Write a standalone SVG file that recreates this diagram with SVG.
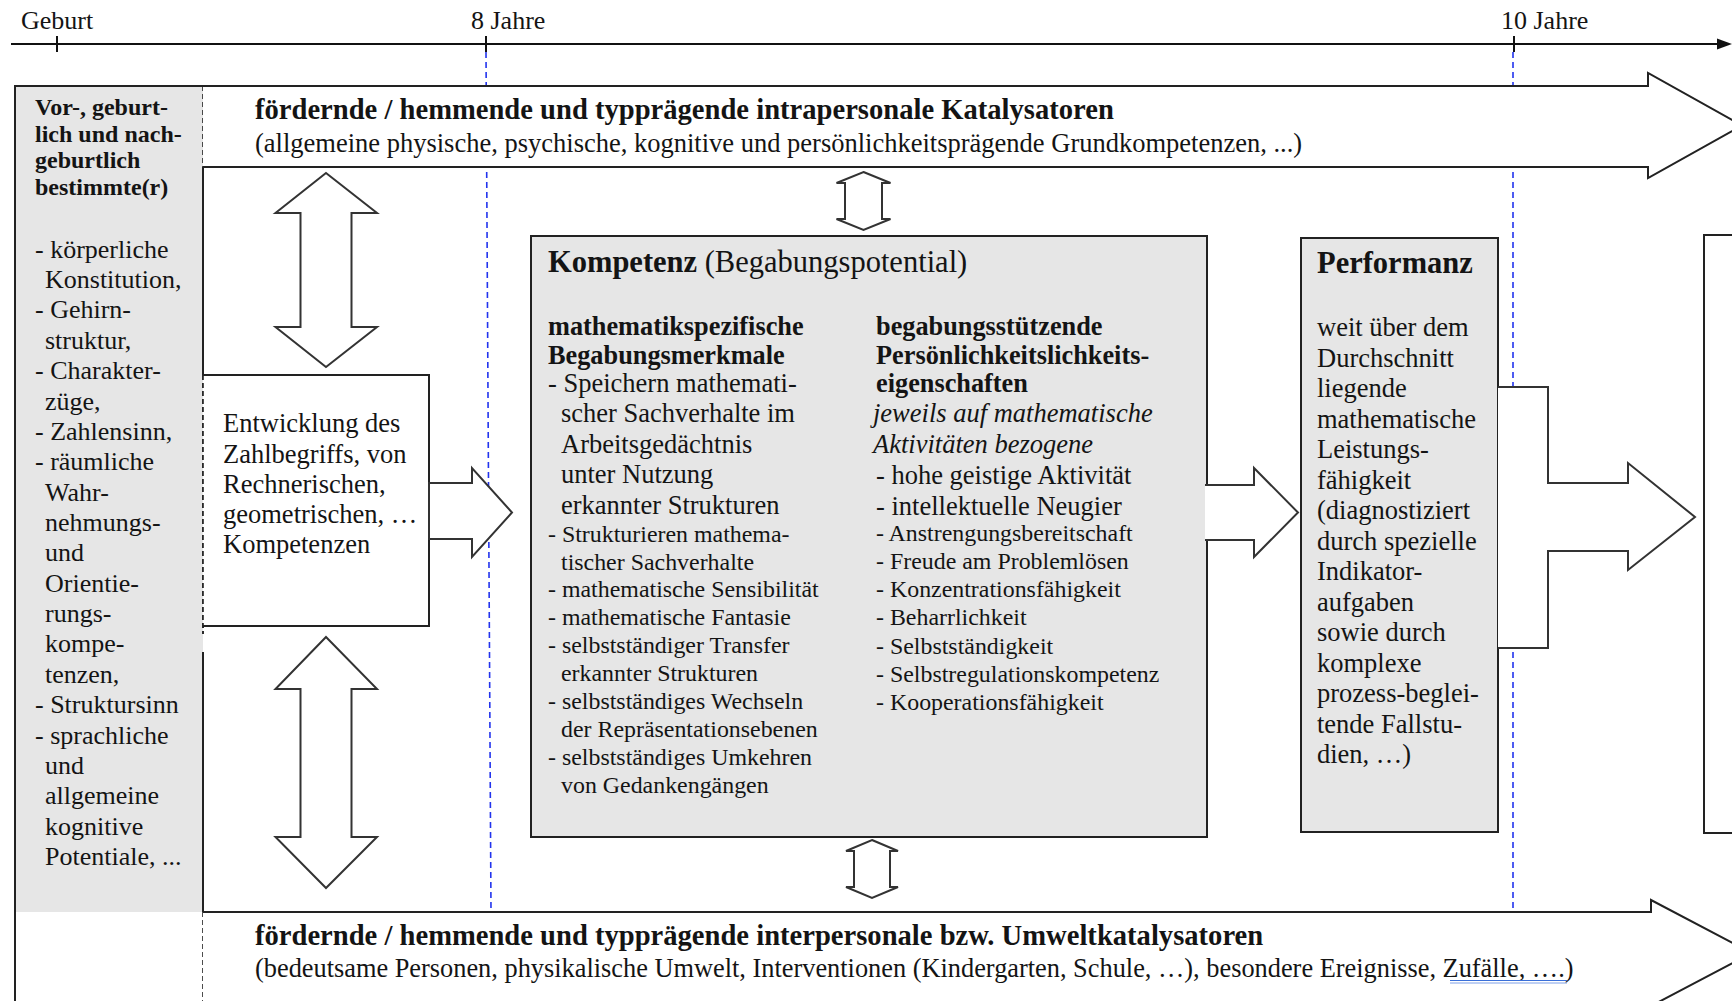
<svg xmlns="http://www.w3.org/2000/svg" width="1732" height="1001" viewBox="0 0 1732 1001">
<style>
text{font-family:"Liberation Serif","Times New Roman",serif;fill:#141414}
.s26{font-size:26px}
.s265{font-size:26.5px}
.b{font-weight:bold}
.hb{font-size:28.6px;font-weight:bold}
.lb{font-size:24px;font-weight:bold}
.kb{font-size:26.3px;font-weight:bold}
.c{font-size:23.9px}
.it{font-size:26.5px;font-style:italic}
.ti{font-size:30.5px}
.ln{stroke:#222;stroke-width:2;fill:none}
.dsh{stroke:#222;stroke-width:1.6;stroke-dasharray:5,3;fill:none}
.blue{stroke:#2233ee;stroke-width:1.6;stroke-dasharray:6,4;fill:none}
.box{fill:#e6e6e6;stroke:#222;stroke-width:2}
.arw{fill:#fff;stroke:#333;stroke-width:2;stroke-linejoin:miter}
.wf{fill:#fff;stroke:none}
</style>

<g id="timeline">
  <line x1="486" y1="52" x2="491" y2="912" class="blue"/>
  <line x1="1513" y1="52" x2="1513" y2="912" class="blue"/>
  <line x1="11" y1="44" x2="1722" y2="44" stroke="#111" stroke-width="2"/>
  <polygon points="1717,38.5 1732,44 1717,49.5" fill="#111"/>
  <line x1="57" y1="36" x2="57" y2="52" stroke="#111" stroke-width="2"/>
  <line x1="486" y1="36" x2="486" y2="52" stroke="#111" stroke-width="2"/>
  <line x1="1514" y1="36" x2="1514" y2="52" stroke="#111" stroke-width="2"/>
  <text x="21" y="29" class="s26">Geburt</text>
  <text x="471" y="29" class="s26">8 Jahre</text>
  <text x="1501" y="29" class="s26">10 Jahre</text>
</g>

<g id="anlagen">
  <rect x="15" y="86" width="188" height="826" fill="#e6e6e6"/>
  <path d="M15,1001 V86 H203" class="ln"/>
  <line x1="203" y1="86" x2="203" y2="167" class="dsh"/>
  <line x1="203" y1="167" x2="203" y2="375" class="ln"/>
  <line x1="203" y1="375" x2="203" y2="634" class="dsh"/>
  <line x1="203" y1="652" x2="203" y2="912" class="ln"/>
  <line x1="203" y1="912" x2="203" y2="1001" class="dsh"/>
  <text class="lb">
    <tspan x="35" y="115">Vor-, geburt-</tspan>
    <tspan x="35" y="141.5">lich und nach-</tspan>
    <tspan x="35" y="168">geburtlich</tspan>
    <tspan x="35" y="194.5">bestimmte(r)</tspan>
  </text>
  <text class="s26">
    <tspan x="35" y="257.6">- körperliche</tspan>
    <tspan x="45" y="288">Konstitution,</tspan>
    <tspan x="35" y="318.3">- Gehirn-</tspan>
    <tspan x="45" y="348.7">struktur,</tspan>
    <tspan x="35" y="379.1">- Charakter-</tspan>
    <tspan x="45" y="409.5">züge,</tspan>
    <tspan x="35" y="439.8">- Zahlensinn,</tspan>
    <tspan x="35" y="470.2">- räumliche</tspan>
    <tspan x="45" y="500.6">Wahr-</tspan>
    <tspan x="45" y="530.9">nehmungs-</tspan>
    <tspan x="45" y="561.3">und</tspan>
    <tspan x="45" y="591.7">Orientie-</tspan>
    <tspan x="45" y="622">rungs-</tspan>
    <tspan x="45" y="652.4">kompe-</tspan>
    <tspan x="45" y="682.8">tenzen,</tspan>
    <tspan x="35" y="713.2">- Struktursinn</tspan>
    <tspan x="35" y="743.5">- sprachliche</tspan>
    <tspan x="45" y="773.9">und</tspan>
    <tspan x="45" y="804.3">allgemeine</tspan>
    <tspan x="45" y="834.6">kognitive</tspan>
    <tspan x="45" y="865">Potentiale, ...</tspan>
  </text>
</g>

<g id="intrapersonal">
  <polygon points="203,86 1648,86 1648,73 1742,125.5 1648,178 1648,167 203,167" class="wf"/>
  <path d="M203,86 H1648 V73 L1742,125.5 L1648,178 V167 H203" class="ln"/>
  <text x="255" y="119" class="hb">fördernde / hemmende und typprägende intrapersonale Katalysatoren</text>
  <text x="255" y="152" class="s265">(allgemeine physische, psychische, kognitive und persönlichkeitsprägende Grundkompetenzen, ...)</text>
</g>

<g id="interpersonal">
  <polygon points="203,912 1651,912 1651,900 1752,953 1651,1006 1651,1010 203,1010" class="wf"/>
  <path d="M203,912 H1651 V900 L1752,953 L1651,1006" class="ln"/>
  <text x="255" y="945" class="hb">fördernde / hemmende und typprägende interpersonale bzw. Umweltkatalysatoren</text>
  <text x="255" y="977" font-size="26.35px">(bedeutsame Personen, physikalische Umwelt, Interventionen (Kindergarten, Schule, …), besondere Ereignisse, Zufälle, ….)</text>
  <line x1="1450" y1="980.5" x2="1567" y2="980.5" stroke="#3a6fd8" stroke-width="1.2"/>
  <line x1="1450" y1="983" x2="1567" y2="983" stroke="#7fa0e8" stroke-width="1"/>
</g>

<g id="entwicklung">
  <rect x="203" y="375" width="226" height="251" fill="#fff"/>
  <path d="M203,375 H429 V626 H203" class="ln"/>
  <line x1="203" y1="375" x2="203" y2="634" class="dsh"/>
  <text class="s265">
    <tspan x="223" y="432">Entwicklung des</tspan>
    <tspan x="223" y="462.5">Zahlbegriffs, von</tspan>
    <tspan x="223" y="493">Rechnerischen,</tspan>
    <tspan x="223" y="523">geometrischen, …</tspan>
    <tspan x="223" y="553">Kompetenzen</tspan>
  </text>
</g>

<g id="kompetenz">
  <rect x="531" y="236" width="676" height="601" class="box"/>
  <text x="548" y="272" class="ti"><tspan class="b">Kompetenz</tspan> (Begabungspotential)</text>
  <text class="kb">
    <tspan x="548" y="335">mathematikspezifische</tspan>
    <tspan x="548" y="364">Begabungsmerkmale</tspan>
  </text>
  <text class="s265">
    <tspan x="548" y="392">- Speichern mathemati-</tspan>
    <tspan x="561" y="422">scher Sachverhalte im</tspan>
    <tspan x="561" y="453">Arbeitsgedächtnis</tspan>
    <tspan x="561" y="483">unter Nutzung</tspan>
    <tspan x="561" y="514">erkannter Strukturen</tspan>
  </text>
  <text class="c">
    <tspan x="548" y="542">- Strukturieren mathema-</tspan>
    <tspan x="561" y="570">tischer Sachverhalte</tspan>
    <tspan x="548" y="597">- mathematische Sensibilität</tspan>
    <tspan x="548" y="625">- mathematische Fantasie</tspan>
    <tspan x="548" y="653">- selbstständiger Transfer</tspan>
    <tspan x="561" y="681">erkannter Strukturen</tspan>
    <tspan x="548" y="709">- selbstständiges Wechseln</tspan>
    <tspan x="561" y="737">der Repräsentationsebenen</tspan>
    <tspan x="548" y="765">- selbstständiges Umkehren</tspan>
    <tspan x="561" y="793">von Gedankengängen</tspan>
  </text>
  <text class="kb">
    <tspan x="876" y="335">begabungsstützende</tspan>
    <tspan x="876" y="364">Persönlichkeitslichkeits-</tspan>
    <tspan x="876" y="392">eigenschaften</tspan>
  </text>
  <text class="it">
    <tspan x="873" y="422">jeweils auf mathematische</tspan>
    <tspan x="873" y="453">Aktivitäten bezogene</tspan>
  </text>
  <text class="s265">
    <tspan x="876" y="484">- hohe geistige Aktivität</tspan>
    <tspan x="876" y="515">- intellektuelle Neugier</tspan>
  </text>
  <text class="c">
    <tspan x="876" y="541">- Anstrengungsbereitschaft</tspan>
    <tspan x="876" y="569">- Freude am Problemlösen</tspan>
    <tspan x="876" y="597">- Konzentrationsfähigkeit</tspan>
    <tspan x="876" y="625">- Beharrlichkeit</tspan>
    <tspan x="876" y="654">- Selbstständigkeit</tspan>
    <tspan x="876" y="682">- Selbstregulationskompetenz</tspan>
    <tspan x="876" y="710">- Kooperationsfähigkeit</tspan>
  </text>
</g>

<g id="performanz">
  <rect x="1301" y="238" width="197" height="594" class="box"/>
  <text x="1317" y="273" class="ti b">Performanz</text>
  <text class="s265">
    <tspan x="1317" y="336">weit über dem</tspan>
    <tspan x="1317" y="366.5">Durchschnitt</tspan>
    <tspan x="1317" y="397">liegende</tspan>
    <tspan x="1317" y="427.5">mathematische</tspan>
    <tspan x="1317" y="458">Leistungs-</tspan>
    <tspan x="1317" y="488.5">fähigkeit</tspan>
    <tspan x="1317" y="519">(diagnostiziert</tspan>
    <tspan x="1317" y="549.5">durch spezielle</tspan>
    <tspan x="1317" y="580">Indikator-</tspan>
    <tspan x="1317" y="610.5">aufgaben</tspan>
    <tspan x="1317" y="641">sowie durch</tspan>
    <tspan x="1317" y="671.5">komplexe</tspan>
    <tspan x="1317" y="702">prozess-beglei-</tspan>
    <tspan x="1317" y="732.5">tende Fallstu-</tspan>
    <tspan x="1317" y="763">dien, …)</tspan>
  </text>
</g>

<g id="folge">
  <rect x="1704" y="235" width="100" height="598" fill="#fff" stroke="#222" stroke-width="2"/>
</g>

<g id="connectors">
  <polygon points="326,173 377,213 351.5,213 351.5,327 377,327 326,367 275.5,327 300.5,327 300.5,213 275.5,213" class="arw"/>
  <polygon points="326,637 377,689 351.5,689 351.5,837 377,837 326,888 275.5,837 300.5,837 300.5,689 275.5,689" class="arw"/>
  <polygon points="863.5,172 890.5,183 882,183 882,219 890.5,219 863.5,230 836.5,219 845,219 845,183 836.5,183" class="arw"/>
  <polygon points="872,840 898,851 890,851 890,887 898,887 872,898 846,887 854,887 854,851 846,851" class="arw"/>
  <polygon points="429,483 472,483 472,468 512,512.5 472,557 472,539 429,539" class="arw"/>
  <path d="M1205,485 H1254 V468 L1298,512.5 L1254,557 V540 H1205" class="arw"/>
  <path d="M1498,387 H1548 V483 H1628 V463 L1695,517 L1628,570 V551 H1548 V648 H1498" class="arw"/>
</g>
</svg>
